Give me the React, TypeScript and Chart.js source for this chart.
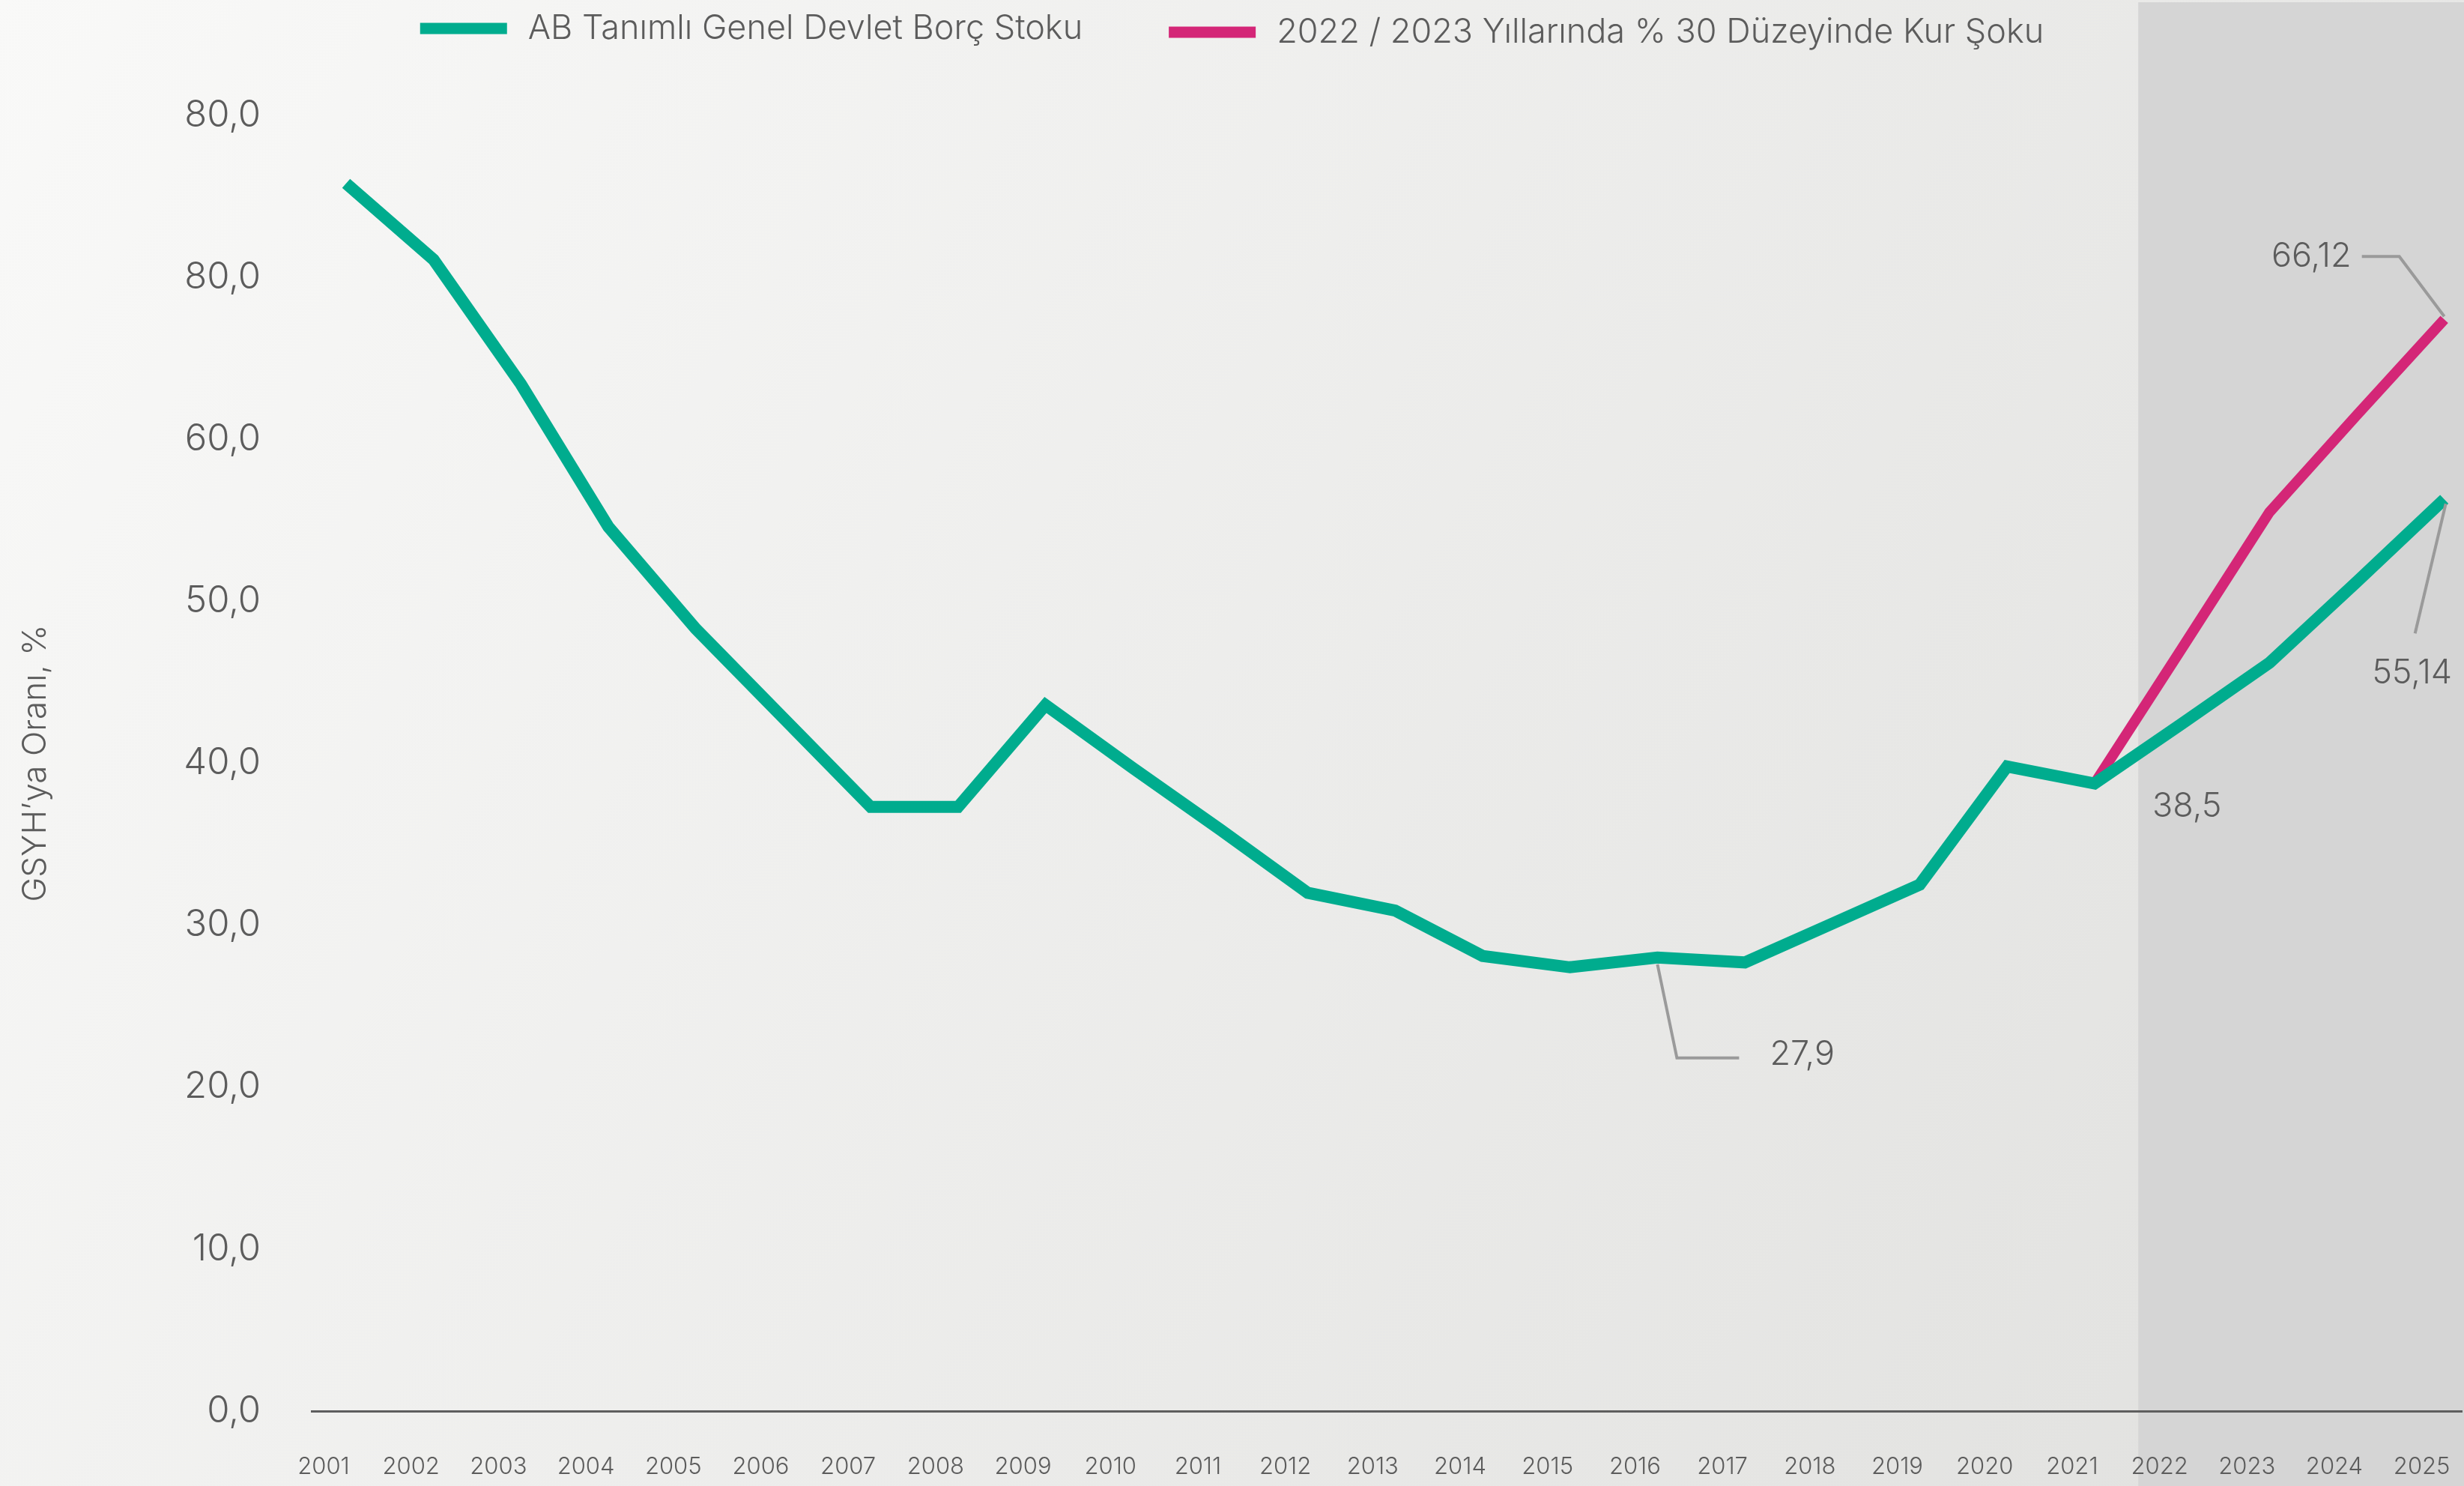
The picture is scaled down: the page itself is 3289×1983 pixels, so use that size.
import { useEffect, useRef } from "react";
import { Chart, registerables } from "chart.js";

Chart.register(...registerables);

// ---------- data ----------
const years = [
  2001, 2002, 2003, 2004, 2005, 2006, 2007, 2008, 2009, 2010, 2011, 2012, 2013,
  2014, 2015, 2016, 2017, 2018, 2019, 2020, 2021, 2022, 2023, 2024, 2025,
];
const yearLabels = [
  "2001", "2002", "2003", "2004", "2005", "2006", "2007", "2008", "2009", "2010",
  "2011", "2012", "2013", "2014", "2015", "2016", "2017", "2018", "2019", "2020",
  "2021", "2022", "2023", "2024", "2025",
];
const debtStock = [
  75.8, 71.1, 63.4, 54.6, 48.3, 42.8, 37.3, 37.3, 43.6, 39.7, 35.9, 32.0, 30.9,
  28.1, 27.4, 28.0, 27.7, 30.1, 32.5, 39.8, 38.75, 42.45, 46.2, 51.2, 56.3,
];
const fxShock = [
  null, null, null, null, null, null, null, null, null, null, null, null, null,
  null, null, null, null, null, null, null, 38.75, 47.1, 55.5, 61.5, 67.4,
];
const yTickValues = [0, 10, 20, 30, 40, 50, 60, 70, 80];
const yTickLabels = ["0,0", "10,0", "20,0", "30,0", "40,0", "50,0", "60,0", "80,0", "80,0"];
const seriesNames = [
  "AB Tanımlı Genel Devlet Borç Stoku",
  "2022 / 2023 Yıllarında % 30 Düzeyinde Kur Şoku",
];
const seriesColors = ["#00ac8e", "#d42677"];
const axisTitle = "GSYH’ya Oranı, %";
const forecastStart = 2021.5;
const callouts = [
  { series: 0, year: 2016, text: "27,9" },
  { series: 0, year: 2021, text: "38,5" },
  { series: 1, year: 2025, text: "66,12" },
  { series: 0, year: 2025, text: "55,14" },
];

const FONT = "Inter, 'Noto Sans', sans-serif";
const TEXT = "#5c5c5c";

const bgPlugin = {
  id: "bg",
  beforeDraw(chart: any) {
    const { ctx, width, height } = chart;
    ctx.save();
    const g = ctx.createLinearGradient(0, 0, width, height);
    g.addColorStop(0, "#f9f9f8");
    g.addColorStop(1, "#e0e0de");
    ctx.fillStyle = g;
    ctx.fillRect(0, 0, width, height);
    const xs = chart.scales.x;
    const sx = xs.getPixelForValue(forecastStart);
    ctx.fillStyle = "#d5d5d5";
    ctx.fillRect(sx, 3, width - sx, height - 3);
    ctx.restore();
  },
};

const legendPlugin = {
  id: "customLegend",
  afterDraw(chart: any) {
    const { ctx, width } = chart;
    ctx.save();
    ctx.font = `300 45px ${FONT}`;
    ctx.textBaseline = "middle";
    ctx.textAlign = "left";
    const swW = 116, swH = 15, gap = 28, itemGap = 115;
    const widths = seriesNames.map((t) => ctx.measureText(t).width);
    const total =
      widths.reduce((a, w) => a + swW + gap + w, 0) + itemGap * (seriesNames.length - 1);
    let x = (width - total) / 2;
    const ys = [38, 43];
    seriesNames.forEach((t, i) => {
      const y = ys[i];
      ctx.fillStyle = seriesColors[i];
      ctx.fillRect(x, y - swH / 2, swW, swH);
      ctx.fillStyle = TEXT;
      ctx.fillText(t, x + swW + gap, y);
      x += swW + gap + widths[i] + itemGap;
    });
    ctx.restore();
  },
};

const calloutPlugin = {
  id: "callouts",
  afterDatasetsDraw(chart: any) {
    const { ctx } = chart;
    const xs = chart.scales.x;
    const ys = chart.scales.y;
    ctx.save();
    ctx.strokeStyle = "#9a9a9a";
    ctx.lineWidth = 4;
    ctx.lineJoin = "miter";
    ctx.fillStyle = TEXT;
    ctx.font = `300 45px ${FONT}`;
    ctx.textBaseline = "middle";
    callouts.forEach((c, k) => {
      const arr = c.series === 0 ? debtStock : fxShock;
      const idx = years.indexOf(c.year);
      const px = xs.getPixelForValue(c.year);
      const py = ys.getPixelForValue(arr[idx] as number);
      const line = (pts: number[][]) => {
        ctx.beginPath();
        pts.forEach(([a, b], i) => (i ? ctx.lineTo(px + a, py + b) : ctx.moveTo(px + a, py + b)));
        ctx.stroke();
      };
      if (k === 0) {
        line([[0, 9], [26, 134], [109, 134]]);
        ctx.textAlign = "left";
        ctx.fillText(c.text, px + 150, py + 130);
      } else if (k === 1) {
        ctx.textAlign = "left";
        ctx.fillText(c.text, px + 77, py + 31);
      } else if (k === 2) {
        line([[0, -4], [-60, -84], [-110, -84]]);
        ctx.textAlign = "right";
        ctx.fillText(c.text, px - 124, py - 84);
      } else {
        line([[2, 6], [-39, 179]]);
        ctx.textAlign = "center";
        ctx.fillText(c.text, px - 43, py + 232);
      }
    });
    ctx.restore();
  },
};

export default function App() {
  const ref = useRef<HTMLCanvasElement | null>(null);

  useEffect(() => {
    document.body.style.margin = "0";
    document.body.style.overflow = "hidden";
    const canvas = ref.current!;
    const chart = new Chart(canvas, {
      type: "line",
      data: {
        datasets: [
          {
            label: seriesNames[0],
            data: years.map((y, i) => ({ x: y, y: debtStock[i] })),
            borderColor: seriesColors[0],
            backgroundColor: seriesColors[0],
            borderWidth: 16,
            pointRadius: 0,
            tension: 0,
            borderJoinStyle: "miter",
            borderCapStyle: "butt",
          },
          {
            label: seriesNames[1],
            data: years.map((y, i) => ({ x: y, y: fxShock[i] })),
            borderColor: seriesColors[1],
            backgroundColor: seriesColors[1],
            borderWidth: 14,
            pointRadius: 0,
            tension: 0,
            borderJoinStyle: "miter",
            borderCapStyle: "butt",
          },
        ] as any,
      },
      options: {
        animation: false,
        responsive: false,
        devicePixelRatio: 1,
        layout: { padding: { left: 0, right: 3, top: 0, bottom: 0 } },
        plugins: {
          legend: { display: false },
          tooltip: { enabled: false },
        },
        scales: {
          x: {
            type: "linear",
            min: 2000.606,
            max: 2025.2,
            grid: { display: false, drawTicks: false },
            border: { display: true, color: "#5e5e5e", width: 3 },
            afterBuildTicks: (scale: any) => {
              scale.ticks = years.map((v) => ({ value: v }));
            },
            afterFit: (scale: any) => {
              scale.height = 100;
              scale.paddingLeft = 0;
              scale.paddingRight = 0;
            },
            ticks: {
              autoSkip: false,
              maxRotation: 0,
              minRotation: 0,
              padding: 56,
              labelOffset: -30,
              color: TEXT,
              font: { family: FONT, size: 31, weight: "300" as any, lineHeight: 1.2 },
              callback: (_v: any, i: number) => yearLabels[i],
            },
          },
          y: {
            type: "linear",
            min: 0,
            max: 80,
            grid: { display: false, drawTicks: false },
            border: { display: false },
            afterBuildTicks: (scale: any) => {
              scale.ticks = yTickValues.map((v) => ({ value: v }));
            },
            afterFit: (scale: any) => {
              scale.width = 416;
              scale.paddingTop = 154;
            },
            ticks: {
              padding: 68,
              color: TEXT,
              font: { family: FONT, size: 49, weight: "300" as any },
              callback: (_v: any, i: number) => yTickLabels[i],
            },
            title: {
              display: true,
              text: axisTitle,
              color: TEXT,
              padding: { top: 21, bottom: 0 },
              font: { family: FONT, size: 44, weight: "300" as any, lineHeight: 1.2 },
            },
          },
        },
      } as any,
      plugins: [bgPlugin, legendPlugin, calloutPlugin],
    });
    return () => chart.destroy();
  }, []);

  return (
    <div style={{ width: 3289, height: 1983 }}>
      <canvas ref={ref} width={3289} height={1983} style={{ display: "block" }} />
    </div>
  );
}
